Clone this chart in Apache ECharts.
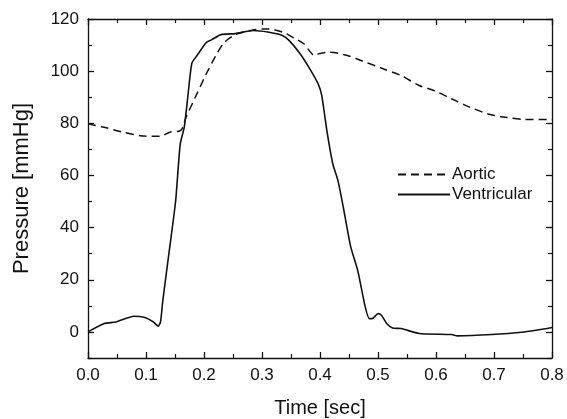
<!DOCTYPE html>
<html>
<head>
<meta charset="utf-8">
<script src="https://cdn.jsdelivr.net/npm/echarts@6/dist/echarts.min.js"></script>
<style>
  html, body { margin: 0; padding: 0; background: #fff; }
  #chart { width: 567px; height: 419px; }
</style>
</head>
<body>
<div id="chart"></div>
<script>
// ventricular pressure
var ventTime = [0, 0.028, 0.048, 0.079, 0.098, 0.113, 0.121, 0.125, 0.129, 0.138, 0.151, 0.159, 0.166, 0.172, 0.179, 0.188, 0.204, 0.213, 0.229, 0.254, 0.285, 0.310, 0.335, 0.347, 0.366, 0.384, 0.397, 0.403, 0.412, 0.422, 0.431, 0.440, 0.453, 0.465, 0.478, 0.485, 0.490, 0.500, 0.506, 0.515, 0.525, 0.540, 0.571, 0.627, 0.637, 0.696, 0.752, 0.783, 0.8];
var ventPres = [0, 3.2, 3.8, 6, 5.5, 3.8, 2.2, 3.8, 12, 27.5, 50, 72, 78.5, 90, 103, 106, 111, 112, 114, 114.4, 115.6, 115, 113.7, 111.7, 106.6, 100.3, 95, 90.7, 77, 64.5, 58, 48, 32.6, 23.6, 9.6, 5.1, 5.1, 7, 6.4, 3.2, 1.5, 1.3, -0.6, -1, -1.5, -1, 0, 1, 1.7];

// aortic pressure
var aortTime = [0, 0.028, 0.06, 0.098, 0.123, 0.141, 0.16, 0.169, 0.185, 0.204, 0.222, 0.235, 0.254, 0.285, 0.310, 0.335, 0.353, 0.372, 0.391, 0.397, 0.416, 0.447, 0.472, 0.509, 0.540, 0.571, 0.596, 0.627, 0.658, 0.690, 0.720, 0.752, 0.8];
var aortPres = [79.8, 78.5, 76.6, 75.1, 75, 76.6, 77.3, 82.3, 90, 99, 106.6, 111, 114, 115.8, 116.2, 115, 113, 110.5, 106, 106.6, 107.3, 106, 104, 100.9, 98.3, 94.5, 92.6, 89.4, 86.2, 83.6, 82.3, 81.5, 81.5];

var yLabelValues = [0, 20, 40, 60, 80, 100, 120];
var yMinorValues = [-10, 10, 30, 50, 70, 90, 110];

function pairs(xs, ys) {
    return xs.map(function (x, i) { return [x, ys[i]]; });
}

var ink = '#111';
var font = 'Liberation Sans, Arial, sans-serif';

var xBase = {
    type: 'value', min: 0, max: 0.8, interval: 0.1,
    axisLine: { onZero: false, lineStyle: { color: ink, width: 1.3 } },
    axisTick: { inside: true, length: 6, lineStyle: { color: ink, width: 1.3 } },
    minorTick: { show: true, splitNumber: 2, length: 4, lineStyle: { color: ink, width: 1.2 } },
    splitLine: { show: false }
};
var yBase = {
    type: 'value', min: -10, max: 120, interval: 10,
    axisLine: { show: true, onZero: false, lineStyle: { color: ink, width: 1.3 } },
    axisTick: { inside: true, length: 6, customValues: yLabelValues, lineStyle: { color: ink, width: 1.3 } },
    splitLine: { show: false }
};
var yMinor = {
    type: 'value', min: -10, max: 120, interval: 10,
    axisLine: { show: false, onZero: false },
    axisLabel: { show: false },
    axisTick: { inside: true, length: 4, customValues: yMinorValues, lineStyle: { color: ink, width: 1.2 } },
    splitLine: { show: false }
};

var option = {
    backgroundColor: '#fff',
    animation: false,
    grid: { left: 88, right: 15, top: 19, bottom: 61, outerBoundsMode: 'none' },
    legend: {
        orient: 'vertical',
        left: 392, top: 161,
        itemWidth: 52, itemHeight: 10, itemGap: 3,
        itemStyle: { opacity: 0 },
        textStyle: { fontFamily: font, fontSize: 17, color: ink, padding: [0, 0, 0, -3] },
        data: ['Aortic', 'Ventricular']
    },
    xAxis: [
        Object.assign({}, xBase, {
            position: 'bottom',
            name: 'Time [sec]', nameLocation: 'middle', nameGap: 40,
            nameTextStyle: { fontFamily: font, fontSize: 20, color: ink },
            axisLabel: {
                margin: 9, fontFamily: font, fontSize: 17, color: ink,
                formatter: function (v) { return v.toFixed(1); }
            }
        }),
        Object.assign({}, xBase, { position: 'top', axisLabel: { show: false } })
    ],
    yAxis: [
        Object.assign({}, yBase, {
            position: 'left',
            name: 'Pressure [mmHg]', nameLocation: 'middle', nameGap: 55,
            nameTextStyle: { fontFamily: font, fontSize: 22, color: ink },
            axisLabel: { customValues: yLabelValues, margin: 9, fontFamily: font, fontSize: 17, color: ink }
        }),
        Object.assign({}, yBase, { position: 'right', axisLabel: { show: false } }),
        Object.assign({}, yMinor, { position: 'left' }),
        Object.assign({}, yMinor, { position: 'right' })
    ],
    series: [{
        name: 'Aortic',
        type: 'line',
        xAxisIndex: 0, yAxisIndex: 0,
        data: pairs(aortTime, aortPres),
        symbol: 'none',
        smooth: 0.3,
        lineStyle: { color: ink, width: 1.5, type: [8, 5] },
        itemStyle: { color: ink }
    }, {
        name: 'Ventricular',
        type: 'line',
        xAxisIndex: 0, yAxisIndex: 0,
        data: pairs(ventTime, ventPres),
        symbol: 'none',
        smooth: 0.2,
        lineStyle: { color: ink, width: 1.6 },
        itemStyle: { color: ink }
    }]
};

var myChart = echarts.init(document.getElementById('chart'));
myChart.setOption(option);
</script>
</body>
</html>
